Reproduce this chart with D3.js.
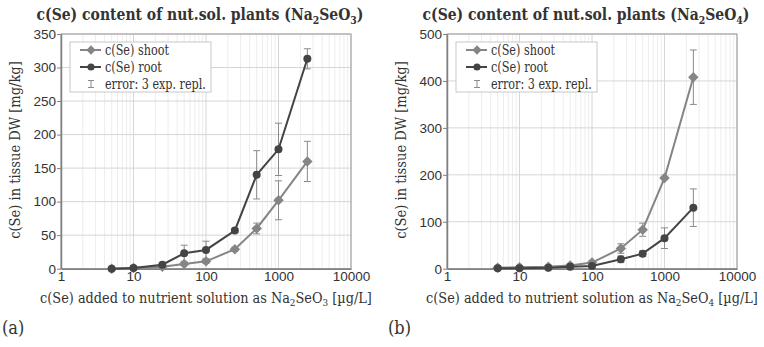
<!DOCTYPE html>
<html>
<head>
<meta charset="utf-8">
<script src="https://cdn.jsdelivr.net/npm/d3@7"></script>
<style>
  body { margin: 0; background: #fff; }
  svg { font-family: "DejaVu Serif Condensed", "DejaVu Serif", serif; font-stretch: condensed; }
</style>
</head>
<body>
<svg id="chart" width="764" height="347"></svg>
<script>
// added Se concentration in the nutrient solution [µg/L]
const concentrations = [5, 10, 25, 50, 100, 250, 500, 1000, 2500];

// Na2SeO3 (selenite) panel
const seleniteShoot = [0, 1, 3, 7, 11, 29, 60, 102, 160];
const seleniteShootErr = [0.5, 0.5, 1, 2, 3, 3, 8, 29, 30];
const seleniteRoot = [0, 1, 6, 23, 28, 57, 140, 178, 313];
const seleniteRootErr = [0.5, 0.5, 1, 12, 13, 3, 36, 39, 15];

// Na2SeO4 (selenate) panel
const selenateShoot = [2, 3, 4, 7, 13, 43, 83, 193, 408];
const selenateShootErr = [0.5, 1, 1, 3, 3, 10, 14, 3, 58];
const selenateRoot = [1, 1, 2, 4, 6, 20, 32, 65, 130];
const selenateRootErr = [0.5, 0.5, 1, 2, 2, 7, 6, 22, 40];

const xTicks = [1, 10, 100, 1000, 10000];
const seleniteYTicks = [0, 50, 100, 150, 200, 250, 300, 350];
const selenateYTicks = [0, 100, 200, 300, 400, 500];

const legendLabels = ['c(Se) shoot', 'c(Se) root', 'error: 3 exp. repl.'];

const shootColor = '#858585';
const rootColor = '#444444';
const errColor = '#8a8a8a';

const svg = d3.select('#chart');

/* squeeze a text horizontally to a given width (keeps its height) */
const fit = (sel, w, ax, ay) => {
  const bw = sel.node().getBBox().width;
  const k = Math.min(1, w / bw);
  sel.attr('transform', `translate(${ax},${ay}) scale(${k},1) translate(${-ax},${-ay})`);
};

/* one panel of the figure */
const panel = (opt) => {
  const g = svg.append('g');
  const x = d3.scaleLog().domain([1, 10000]).range([opt.left, opt.left + 290]);
  const y = d3.scaleLinear().domain([0, opt.yMax]).range([268.7, 34]);

  // minor vertical grid
  const minor = [];
  for (let p = 1; p < 10000; p *= 10) for (let k = 2; k < 10; k++) minor.push(p * k);
  g.append('g').selectAll('line').data(minor).join('line')
    .attr('x1', d => x(d)).attr('x2', d => x(d))
    .attr('y1', y(0)).attr('y2', y(opt.yMax))
    .attr('stroke', '#ededed').attr('stroke-width', 1);
  g.append('g').selectAll('line').data(xTicks).join('line')
    .attr('x1', d => x(d)).attr('x2', d => x(d))
    .attr('y1', y(0)).attr('y2', y(opt.yMax))
    .attr('stroke', '#d6d6d6').attr('stroke-width', 1);
  g.append('g').selectAll('line').data(opt.yTicks).join('line')
    .attr('x1', x(1)).attr('x2', x(10000))
    .attr('y1', d => y(d)).attr('y2', d => y(d))
    .attr('stroke', '#d6d6d6').attr('stroke-width', 1);

  // frame
  g.append('rect')
    .attr('x', x(1)).attr('y', y(opt.yMax))
    .attr('width', x(10000) - x(1)).attr('height', y(0) - y(opt.yMax))
    .attr('fill', 'none').attr('stroke', '#9a9a9a').attr('stroke-width', 1);

  // axes
  const yAxis = g.append('g')
    .attr('transform', `translate(${x(1)},0)`)
    .call(d3.axisLeft(y).tickValues(opt.yTicks).tickSize(4).tickSizeOuter(0).tickPadding(1));
  const xAxis = g.append('g')
    .attr('transform', `translate(0,${y(0)})`)
    .call(d3.axisBottom(x).tickValues(xTicks).tickFormat(d3.format('d')).tickSize(0).tickPadding(3));
  [xAxis, yAxis].forEach(a => {
    a.select('.domain').attr('stroke', '#808080').attr('stroke-width', 1.5);
    a.selectAll('.tick line').attr('stroke', '#808080');
    a.selectAll('text').attr('font-family', null)
      .attr('font-size', 13.5).attr('fill', '#333');
  });

  // series
  const series = [
    { vals: opt.shoot, err: opt.shootErr, color: shootColor, mark: d3.symbolDiamond2 },
    { vals: opt.root, err: opt.rootErr, color: rootColor, mark: d3.symbolCircle }
  ];
  series.forEach(s => {
    const pts = concentrations.map((c, i) => ({ c: c, v: s.vals[i], e: s.err[i] }));
    const eb = g.append('g').selectAll('g').data(pts).join('g')
      .attr('stroke', errColor).attr('stroke-width', 1);
    eb.append('line').attr('x1', d => x(d.c)).attr('x2', d => x(d.c))
      .attr('y1', d => y(d.v - d.e)).attr('y2', d => y(d.v + d.e));
    eb.append('line').attr('x1', d => x(d.c) - 3.5).attr('x2', d => x(d.c) + 3.5)
      .attr('y1', d => y(d.v - d.e)).attr('y2', d => y(d.v - d.e));
    eb.append('line').attr('x1', d => x(d.c) - 3.5).attr('x2', d => x(d.c) + 3.5)
      .attr('y1', d => y(d.v + d.e)).attr('y2', d => y(d.v + d.e));
    g.append('path').datum(pts)
      .attr('d', d3.line().x(d => x(d.c)).y(d => y(d.v)))
      .attr('fill', 'none').attr('stroke', s.color).attr('stroke-width', 2);
    g.append('g').selectAll('path').data(pts).join('path')
      .attr('transform', d => `translate(${x(d.c)},${y(d.v)})`)
      .attr('d', d3.symbol().type(s.mark).size(s.mark === d3.symbolCircle ? 50 : 70))
      .attr('fill', s.color);
  });

  // legend
  const lx = opt.left + 9, ly = 42;
  const lg = g.append('g');
  lg.append('rect').attr('x', lx).attr('y', ly).attr('width', 141).attr('height', 50)
    .attr('fill', '#fff').attr('stroke', '#c8c8c8');
  const marks = [
    { color: shootColor, mark: d3.symbolDiamond2 },
    { color: rootColor, mark: d3.symbolCircle },
    null
  ];
  legendLabels.forEach((t, i) => {
    const cy = ly + 8 + i * 17;
    const m = marks[i];
    if (m) {
      lg.append('line').attr('x1', lx + 10).attr('x2', lx + 31).attr('y1', cy).attr('y2', cy)
        .attr('stroke', m.color).attr('stroke-width', 2);
      lg.append('path').attr('transform', `translate(${lx + 21},${cy})`)
        .attr('d', d3.symbol().type(m.mark).size(m.mark === d3.symbolCircle ? 40 : 55))
        .attr('fill', m.color);
    } else {
      lg.append('path').attr('d', `M${lx + 18},${cy - 3.5}H${lx + 24}M${lx + 21},${cy - 3.5}V${cy + 3.5}M${lx + 18},${cy + 3.5}H${lx + 24}`)
        .attr('stroke', errColor).attr('fill', 'none');
    }
    const tx = lg.append('text').attr('x', lx + 35).attr('y', cy + 4.8)
      .attr('font-size', 14).attr('fill', '#333').text(t);
    fit(tx, [64, 57, 101][i], lx + 35, cy);
  });

  // title
  const title = g.append('text').attr('x', opt.left + 139).attr('y', 20)
    .attr('text-anchor', 'middle').attr('font-size', 16.5).attr('font-weight', 'bold').attr('fill', '#333');
  title.append('tspan').text('c(Se) content of nut.sol. plants (Na');
  title.append('tspan').attr('font-size', 11).attr('dy', 4).text('2');
  title.append('tspan').attr('dy', -4).text('SeO');
  title.append('tspan').attr('font-size', 11).attr('dy', 4).text(opt.sub);
  title.append('tspan').attr('dy', -4).text(')');
  fit(title, 327, opt.left + 139, 20);

  // x label
  const xl = g.append('text').attr('x', opt.left + 145).attr('y', 303)
    .attr('text-anchor', 'middle').attr('font-size', 14.5).attr('fill', '#333');
  xl.append('tspan').text('c(Se) added to nutrient solution as Na');
  xl.append('tspan').attr('font-size', 10).attr('dy', 3).text('2');
  xl.append('tspan').attr('dy', -3).text('SeO');
  xl.append('tspan').attr('font-size', 10).attr('dy', 3).text(opt.sub);
  xl.append('tspan').attr('dy', -3).text(' [µg/L]');
  fit(xl, 332, opt.left + 145, 303);

  // y label
  const yl = g.append('g').attr('transform', `translate(${opt.left - 41},150) rotate(-90)`);
  const ylt = yl.append('text')
    .attr('text-anchor', 'middle').attr('font-size', 14.5).attr('fill', '#333')
    .text('c(Se) in tissue DW [mg/kg]');
  fit(ylt, 203, 0, 0);

  // panel letter
  g.append('text').attr('x', opt.left - 59).attr('y', 334)
    .attr('font-size', 18).attr('fill', '#333').text(opt.letter);
};

panel({ left: 61, yMax: 350, yTicks: seleniteYTicks, shoot: seleniteShoot, shootErr: seleniteShootErr,
  root: seleniteRoot, rootErr: seleniteRootErr, sub: '3', letter: '(a)' });
panel({ left: 447, yMax: 500, yTicks: selenateYTicks, shoot: selenateShoot, shootErr: selenateShootErr,
  root: selenateRoot, rootErr: selenateRootErr, sub: '4', letter: '(b)' });
</script>
</body>
</html>
